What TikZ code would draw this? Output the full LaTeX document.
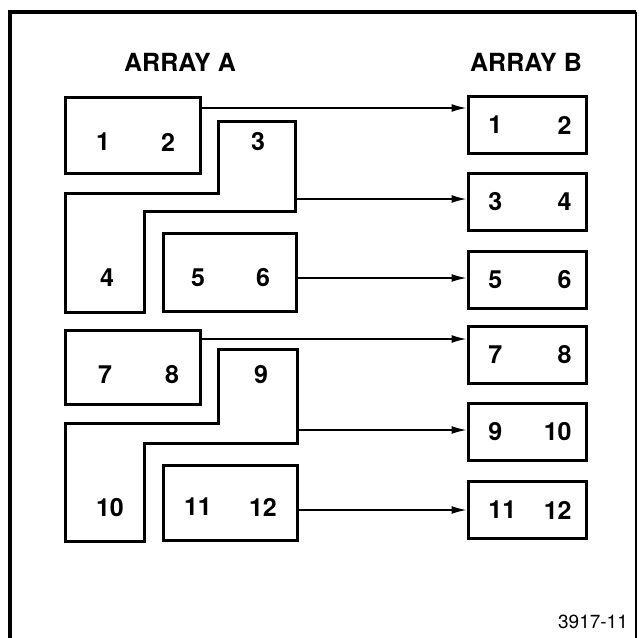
\documentclass[tikz,border=0pt]{standalone}
\usepackage{fontspec}
\setmainfont{TeX Gyre Heros}
\usetikzlibrary{arrows.meta}
\tikzset{
  cell/.style={draw,line width=1.5pt,minimum width=59pt,minimum height=28.5pt,inner sep=0pt},
  blk/.style={line width=1.5pt},
  num/.style={font=\bfseries\fontsize{12.5}{13}\selectfont,inner sep=0pt},
  head/.style={font=\bfseries\fontsize{12.5}{13}\selectfont,inner sep=0pt},
  link/.style={line width=0.8pt,-{Latex[length=7.5pt,width=4pt]}}
}
\begin{document}
\begin{tikzpicture}[x=0.5pt,y=-0.5pt]
\useasboundingbox (0,0) rectangle (639,638);
% frame
\draw[line width=2pt] (10,638) -- (10,12) -- (636,12);
\draw[line width=1pt] (636,12) -- (636,638);
\node[head] (ha) at (180,62) {ARRAY A};
\node[head] (hb) at (526,62) {ARRAY B};
% array A
\node[cell,minimum width=67.5pt,minimum height=38pt] (a12) at (132.5,135) {};
\node[num] at (103,142) {1};
\node[num] at (168,142) {2};
\draw[blk] (218,121) -- (295,121) -- (295,211) -- (144,211) -- (144,312)
  -- (65,312) -- (65,193) -- (218,193) -- cycle;
\node[num] at (258,142) {3};
\node[num] at (107,278) {4};
\node[cell,minimum width=66.5pt,minimum height=39pt] (a56) at (229.5,272) {};
\node[num] at (198,278) {5};
\node[num] at (263,278) {6};
\node[cell,minimum width=67.5pt,minimum height=37pt] (a78) at (132.5,367) {};
\node[num] at (105,375) {7};
\node[num] at (172,375) {8};
\draw[blk] (218,349) -- (297,349) -- (297,443) -- (144,443) -- (144,541)
  -- (65,541) -- (65,423) -- (218,423) -- cycle;
\node[num] at (261,375) {9};
\node[num] at (110,508) {10};
\node[cell,minimum width=67pt,minimum height=37.5pt] (a1112) at (230,502.5) {};
\node[num] at (198,507) {11};
\node[num] at (263,507) {12};
% array B
\foreach \y/\l/\r/\n in {125/1/2/b1, 202/3/4/b2, 280/5/6/b3,
                        355/7/8/b4, 432/9/10/b5, 510/11/12/b6} {
  \node[cell] (\n) at (527,\y) {};
  \node[num,anchor=west] at (488,\y) {\l};
  \node[num,anchor=east] at (572,\y) {\r};
}
% moves
\coordinate (s1) at (a12.east |- 0,108);
\coordinate (s2) at (295,199);
\coordinate (s3) at (296,278);
\coordinate (s4) at (a78.east |- 0,339);
\coordinate (s5) at (297,430);
\coordinate (s6) at (297,510);
\foreach \i in {1,...,6}
  \draw[link] (s\i) -- (s\i -| b\i.west);
\node[font=\fontsize{9.5}{10}\selectfont,inner sep=0pt] (fig) at (593,622) {3917-11};
\end{tikzpicture}
\end{document}
